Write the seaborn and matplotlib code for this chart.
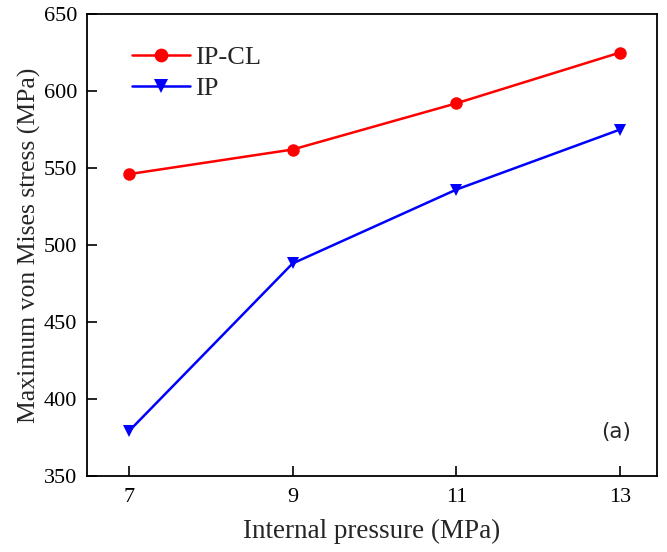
import matplotlib
matplotlib.use("Agg")
import matplotlib.pyplot as plt
import seaborn as sns
import pandas as pd

pressure = [7, 9, 11, 13]
stress_ipcl = [546, 562, 592, 625]
stress_ip = [379, 488, 536, 575]
series_names = ["IP-CL", "IP"]
x_ticks = [7, 9, 11, 13]
y_ticks = [350, 400, 450, 500, 550, 600, 650]

df = pd.DataFrame({
    "pressure": pressure * 2,
    "stress": stress_ipcl + stress_ip,
    "case": [series_names[0]] * len(pressure) + [series_names[1]] * len(pressure),
})

sns.set_style("ticks")
plt.rcParams["font.family"] = ["Liberation Serif", "DejaVu Serif"]

fig = plt.figure(figsize=(6.67, 5.52), dpi=100)
ax = fig.add_axes([0.1304, 0.1377, 0.8546, 0.8369])

sns.lineplot(
    data=df, x="pressure", y="stress", hue="case", style="case",
    palette={"IP-CL": "#ff0000", "IP": "#0000ff"},
    markers={"IP-CL": "o", "IP": "v"}, dashes=False,
    markersize=9, markeredgewidth=0, linewidth=1.8, ax=ax,
)

ax.set_xlim(6.49, 13.45)
ax.set_ylim(350, 650)
ax.set_xticks(x_ticks)
ax.set_yticks(y_ticks)
ax.tick_params(direction="in", length=7, width=1.2, labelsize=16, pad=7,
               colors="black")
ax.tick_params(axis="x", pad=9)
for s in ax.spines.values():
    s.set_linewidth(1.3)
    s.set_color("black")

ax.set_xlabel("Internal pressure (MPa)", fontsize=19.5, labelpad=8)
ax.set_ylabel("Maximum von Mises stress (MPa)", fontsize=18.5, labelpad=2)

leg = ax.legend(loc="upper left", bbox_to_anchor=(0.06, 0.955), frameon=False,
                fontsize=19, handlelength=2.2, handletextpad=0.2,
                labelspacing=0.3, borderaxespad=0, markerscale=1.1)

ax.text(0.955, 0.095, "(a)", transform=ax.transAxes, ha="right", va="center",
        fontsize=15.5, family=["DejaVu Sans"])

fig.savefig("out.png", dpi=100)
